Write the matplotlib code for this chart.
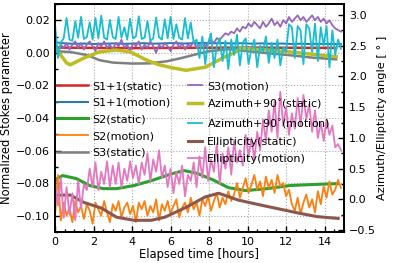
import matplotlib
matplotlib.use('Agg')
import matplotlib.pyplot as plt
import numpy as np
from matplotlib.ticker import MultipleLocator

# ---- static series (smooth), left axis: Stokes parameters
t_s1_static = [0, 2, 4, 6, 8, 10, 12, 14.6]
s1_static = [0.0032, 0.0030, 0.0029, 0.0030, 0.0031, 0.0032, 0.0031, 0.0030]

t_s2_static = [0, 0.1, 0.4, 1.1, 1.8, 2.5, 3.2, 4.1, 5.0, 6.0, 6.7, 7.4, 8.2, 9.0, 9.9, 11.0, 12.2, 13.5, 14.7]
s2_static = [-0.0790, -0.0772, -0.0754, -0.0772, -0.0815, -0.0834, -0.0834, -0.0815, -0.0785, -0.0745,
             -0.0723, -0.0741, -0.0780, -0.0828, -0.0846, -0.0834, -0.0815, -0.0808, -0.0803]

t_s3_static = [0, 0.8, 1.7, 2.3, 3.0, 4.0, 4.9, 5.8, 6.5, 7.3, 8.0, 9.0, 10.0, 11.1, 12.2, 13.4, 14.6]
s3_static = [0.0010, 0.0005, -0.0015, -0.0045, -0.0060, -0.0066, -0.0065, -0.0052, -0.0034, -0.0010,
             0.0010, 0.0022, 0.0010, -0.0003, -0.0015, -0.0030, -0.0040]

# ---- static series, right axis: angles [deg]
t_az_static = [0, 0.1, 0.6, 0.8, 1.5, 2.3, 3.2, 3.9, 4.8, 5.4, 6.1, 6.8, 7.8, 8.7, 9.4, 9.6, 11.0, 12.2, 13.4, 14.6]
az_static = [2.50, 2.43, 2.22, 2.19, 2.30, 2.40, 2.43, 2.40, 2.26, 2.19, 2.14, 2.10, 2.15, 2.30, 2.40,
             2.46, 2.43, 2.40, 2.36, 2.32]

t_ell_static = [0, 0.8, 1.5, 2.4, 3.2, 4.1, 5.0, 5.7, 6.8, 7.8, 8.5, 9.5, 10.5, 11.4, 12.6, 13.6, 14.7]
ell_static = [0.07, 0.07, -0.05, -0.14, -0.29, -0.34, -0.34, -0.29, -0.13, 0.04, 0.10, -0.01, -0.08,
              -0.14, -0.22, -0.28, -0.31]

# ---- motion series (noisy), sampled every 0.15 h
t_motion = np.linspace(0, 14.85, 100)

s1_motion = [0.0065, 0.0058, 0.0055, 0.0057, 0.0054, 0.0056, 0.0058, 0.0055, 0.0057, 0.0059,
             0.0056, 0.0058, 0.0060, 0.0057, 0.0059, 0.0061, 0.0058, 0.0060, 0.0057, 0.0059,
             0.0056, 0.0058, 0.0055, 0.0057, 0.0054, 0.0056, 0.0053, 0.0055, 0.0054, 0.0053]
t_s1_motion = np.linspace(0, 14.85, len(s1_motion))

s2_motion = [-0.100, -0.075, -0.103, -0.092, -0.100, -0.095, -0.104, -0.091, -0.098, -0.094,
             -0.102, -0.093, -0.097, -0.105, -0.092, -0.096, -0.100, -0.091, -0.098, -0.104,
             -0.093, -0.097, -0.091, -0.101, -0.095, -0.092, -0.099, -0.094, -0.104, -0.092,
             -0.096, -0.091, -0.100, -0.094, -0.098, -0.090, -0.103, -0.093, -0.097, -0.091,
             -0.099, -0.094, -0.090, -0.101, -0.095, -0.092, -0.098, -0.089, -0.096, -0.092,
             -0.100, -0.090, -0.094, -0.088, -0.097, -0.091, -0.086, -0.095, -0.089, -0.093,
             -0.085, -0.091, -0.087, -0.080, -0.089, -0.083, -0.077, -0.086, -0.081, -0.075,
             -0.084, -0.079, -0.088, -0.076, -0.083, -0.078, -0.086, -0.075, -0.082, -0.080,
             -0.088, -0.084, -0.093, -0.097, -0.089, -0.099, -0.092, -0.087, -0.095, -0.090,
             -0.098, -0.085, -0.093, -0.082, -0.089, -0.079, -0.087, -0.084, -0.078, -0.083]

s3_motion = [0.008, 0.001, 0.005, 0.003, 0.006, 0.002, 0.005, 0.007, 0.003, 0.006,
             0.002, 0.005, 0.007, 0.004, 0.001, 0.006, 0.004, 0.007, 0.003, 0.005,
             0.002, 0.006, 0.004, 0.008, 0.003, 0.005, 0.001, 0.006, 0.004, 0.007,
             0.002, 0.005, 0.003, 0.007, 0.004, 0.000, 0.005, 0.003, 0.006, 0.004,
             0.001, 0.005, 0.007, 0.003, 0.006, 0.002, 0.005, 0.004, 0.007, 0.003,
             0.005, 0.007, 0.004, 0.006, 0.008, 0.006, 0.009, 0.008, 0.010, 0.012,
             0.011, 0.013, 0.012, 0.015, 0.013, 0.016, 0.015, 0.018, 0.016, 0.019,
             0.017, 0.015, 0.019, 0.016, 0.018, 0.021, 0.017, 0.019, 0.016, 0.020,
             0.018, 0.022, 0.019, 0.021, 0.023, 0.020, 0.022, 0.019, 0.021, 0.023,
             0.020, 0.022, 0.019, 0.021, 0.018, 0.020, 0.017, 0.015, 0.014, 0.013]

az_motion = [2.85, 2.30, 2.55, 2.62, 2.95, 2.60, 2.58, 2.90, 2.63, 2.97,
             2.61, 2.64, 2.88, 2.60, 2.95, 2.62, 2.99, 2.63, 2.60, 2.92,
             2.64, 2.61, 2.97, 2.63, 2.80, 2.60, 2.94, 2.62, 2.65, 2.98,
             2.61, 2.63, 2.90, 2.58, 2.62, 2.96, 2.64, 2.60, 2.93, 2.62,
             2.97, 2.61, 2.85, 2.63, 2.60, 2.95, 2.62, 2.88, 2.55, 2.60,
             2.30, 2.65, 2.20, 2.55, 2.70, 2.15, 2.50, 2.62, 2.25, 2.58,
             2.12, 2.60, 2.35, 2.68, 2.18, 2.55, 2.62, 2.20, 2.45, 2.60,
             2.15, 2.50, 2.40, 2.65, 2.22, 2.55, 2.30, 2.60, 2.18, 2.48,
             2.40, 2.85, 2.80, 2.30, 2.82, 2.75, 2.20, 2.85, 2.78, 2.40,
             2.86, 2.25, 2.80, 2.50, 2.82, 2.15, 2.75, 2.35, 2.60, 2.45]

ell_motion = [0.30, -0.10, 0.35, -0.30, 0.20, -0.25, 0.10, -0.34, 0.30, -0.15,
              0.25, 0.15, 0.50, 0.20, 0.60, 0.15, 0.45, 0.25, 0.62, 0.20,
              0.55, 0.25, 0.60, 0.20, 0.50, 0.30, 0.62, 0.35, 0.55, 0.25,
              0.60, 0.40, 0.75, 0.30, 0.65, 0.45, 0.80, 0.35, 0.55, 0.20,
              0.50, 0.10, 0.45, 0.25, 0.55, 0.05, 0.40, 0.30, 0.60, 0.20,
              0.70, 0.35, 0.85, 0.30, 0.65, 0.45, 0.90, 0.25, 0.75, 0.50,
              0.85, 0.40, 0.95, 0.60, 0.80, 0.55, 1.05, 0.70, 1.00, 0.65,
              1.10, 0.80, 1.30, 0.95, 1.45, 1.10, 1.60, 1.00, 1.75, 1.20,
              1.50, 1.05, 1.40, 1.15, 1.65, 1.20, 1.70, 1.30, 1.55, 1.10,
              1.45, 1.00, 1.25, 0.95, 1.30, 1.05, 1.20, 0.85, 0.90, 0.80]

plt.rcParams['font.size'] = 8

fig = plt.figure(figsize=(3.93, 2.63), dpi=100)
ax = fig.add_axes([0.14, 0.118, 0.735, 0.867])
ax2 = ax.twinx()

l1, = ax.plot(t_s1_static, s1_static, color='tab:red', lw=1.8, label='S1+1(static)')
l2, = ax.plot(t_s1_motion, s1_motion, color='tab:blue', lw=1.4, label='S1+1(motion)')
l3, = ax.plot(t_s2_static, s2_static, color='tab:green', lw=2.2, label='S2(static)')
l4, = ax.plot(t_motion, s2_motion, color='tab:orange', lw=1.3, label='S2(motion)')
l5, = ax.plot(t_s3_static, s3_static, color='tab:gray', lw=1.8, label='S3(static)')
l6, = ax.plot(t_motion, s3_motion, color='tab:purple', lw=1.3, label='S3(motion)')

l7, = ax2.plot(t_az_static, az_static, color='tab:olive', lw=2.5, label='Azimuth+90$^{\\circ}$(static)')
l8, = ax2.plot(t_motion, az_motion, color='tab:cyan', lw=1.3, label='Azimuth+90$^{\\circ}$(motion)')
l9, = ax2.plot(t_ell_static, ell_static, color='tab:brown', lw=2.2, label='Ellipticity(static)')
l10, = ax2.plot(t_motion, ell_motion, color='tab:pink', lw=1.3, label='Ellipticity(motion)')

ax.set_xlim(0, 15)
ax.set_ylim(-0.11, 0.03)
ax2.set_ylim(-0.53, 3.18)

ax.xaxis.set_major_locator(MultipleLocator(2))
ax.xaxis.set_minor_locator(MultipleLocator(0.5))
ax.yaxis.set_major_locator(MultipleLocator(0.02))
ax.yaxis.set_minor_locator(MultipleLocator(0.01))
ax2.yaxis.set_major_locator(MultipleLocator(0.5))
ax2.yaxis.set_minor_locator(MultipleLocator(0.25))

ax.tick_params(which='both', direction='in', width=1, labelsize=8)
ax.tick_params(which='major', length=4)
ax.tick_params(which='minor', length=2)
ax2.tick_params(which='both', direction='in', width=1, labelsize=8)
ax2.tick_params(which='major', length=4)
ax2.tick_params(which='minor', length=2)
for a in (ax, ax2):
    for sp in a.spines.values():
        sp.set_linewidth(1.3)

ax.grid(True, linestyle=':', color='#aaaaaa', lw=0.8)

ax.set_xlabel('Elapsed time [hours]', fontsize=8.3, labelpad=1)
ax.set_ylabel('Normalized Stokes parameter', fontsize=8.3, labelpad=2)
ax2.set_ylabel('Azimuth/Ellipticity angle [ ° ]', fontsize=8.2, labelpad=1)

# two legend columns, the second one with shorter handles
col1 = [l1, l2, l3, l4, l5]
col2 = [l6, l7, l8, l9, l10]
leg1 = ax2.legend(handles=col1, labels=[h.get_label() for h in col1], frameon=False,
                  loc='upper left', bbox_to_anchor=(0.006, 0.662), borderpad=0, borderaxespad=0,
                  handlelength=2.8, handletextpad=0.4, labelspacing=0.6, fontsize=8)
ax2.add_artist(leg1)
ax2.legend(handles=col2, labels=[h.get_label() for h in col2], frameon=False,
           loc='upper left', bbox_to_anchor=(0.46, 0.662), borderpad=0, borderaxespad=0,
           handlelength=1.3, handletextpad=0.4, labelspacing=0.6, fontsize=8)

fig.savefig('out.png', dpi=100)
